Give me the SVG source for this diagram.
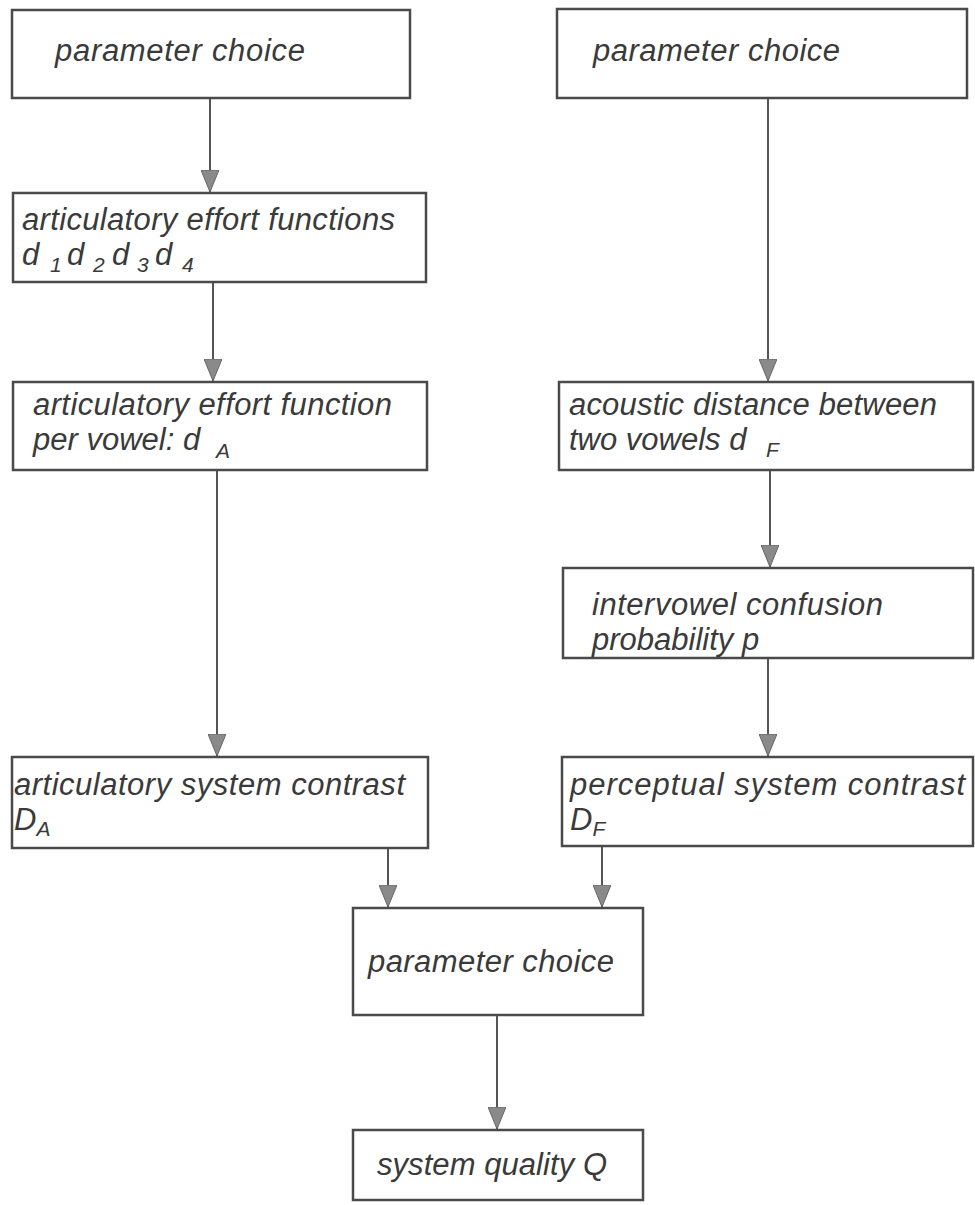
<svg xmlns="http://www.w3.org/2000/svg" width="975" height="1205" viewBox="0 0 975 1205">
<style>
.box{fill:#fff;stroke:#4a4a4a;stroke-width:2.5}
.t{font-family:"Liberation Sans",Arial,sans-serif;font-style:italic;font-size:31px;fill:#3a3a3a}
.s{font-size:21px}
.c{stroke:#555;stroke-width:2;fill:none}
</style>
<defs>
<marker id="ah" viewBox="0 0 22 18" refX="22" refY="9" markerWidth="22" markerHeight="18" markerUnits="userSpaceOnUse" orient="auto">
<path d="M0,0 L22,9 L0,18 Z" fill="#8a8a8a" stroke="#666" stroke-width="1"/>
</marker>
</defs>
<rect width="975" height="1205" fill="#fff"/>
<g id="connectors">
<line class="c" x1="210" y1="98" x2="210" y2="192" marker-end="url(#ah)"/>
<line class="c" x1="213" y1="282" x2="213" y2="381" marker-end="url(#ah)"/>
<line class="c" x1="217" y1="470" x2="217" y2="756" marker-end="url(#ah)"/>
<line class="c" x1="768" y1="98" x2="768" y2="381" marker-end="url(#ah)"/>
<line class="c" x1="770" y1="470" x2="770" y2="567" marker-end="url(#ah)"/>
<line class="c" x1="768" y1="658" x2="768" y2="756" marker-end="url(#ah)"/>
<line class="c" x1="388" y1="848" x2="388" y2="907" marker-end="url(#ah)"/>
<line class="c" x1="602" y1="846" x2="602" y2="907" marker-end="url(#ah)"/>
<line class="c" x1="497" y1="1015" x2="497" y2="1129" marker-end="url(#ah)"/>
</g>
<g id="n1"><rect class="box" x="12" y="10" width="398" height="88"/>
<text class="t" x="55" y="61" textLength="250">parameter choice</text></g>
<g id="n2"><rect class="box" x="557" y="9" width="410" height="89"/>
<text class="t" x="593" y="61" textLength="247">parameter choice</text></g>
<g id="n3"><rect class="box" x="13" y="193" width="413" height="89"/>
<text class="t" x="22" y="230" textLength="373">articulatory effort functions</text>
<text class="t"><tspan x="22" y="265">d</tspan><tspan class="s" x="50" y="272">1</tspan><tspan x="67" y="265">d</tspan><tspan class="s" x="93" y="272">2</tspan><tspan x="112" y="265">d</tspan><tspan class="s" x="137" y="272">3</tspan><tspan x="155" y="265">d</tspan><tspan class="s" x="182" y="272">4</tspan></text></g>
<g id="n4"><rect class="box" x="13" y="382" width="414" height="88"/>
<text class="t" x="33" y="415" textLength="359">articulatory effort function</text>
<text class="t" x="33" y="450">per vowel: d <tspan class="s" x="216" y="458">A</tspan></text></g>
<g id="n5"><rect class="box" x="559" y="382" width="414" height="88"/>
<text class="t" x="569" y="415" textLength="368">acoustic distance between</text>
<text class="t" x="569" y="450">two vowels d <tspan class="s" x="766" y="457">F</tspan></text></g>
<g id="n6"><rect class="box" x="563" y="568" width="410" height="90"/>
<text class="t" x="592" y="615" textLength="291">intervowel confusion</text>
<text class="t" x="592" y="650">probability p</text></g>
<g id="n7"><rect class="box" x="12" y="757" width="416" height="91"/>
<text class="t" x="14" y="795" textLength="391">articulatory system contrast</text>
<text class="t" x="14" y="830">D<tspan class="s" y="836">A</tspan></text></g>
<g id="n8"><rect class="box" x="562" y="757" width="411" height="89"/>
<text class="t" x="570" y="795" textLength="395">perceptual system contrast</text>
<text class="t" x="570" y="830">D<tspan class="s" y="836">F</tspan></text></g>
<g id="n9"><rect class="box" x="353" y="908" width="290" height="107"/>
<text class="t" x="368" y="972" textLength="246">parameter choice</text></g>
<g id="n10"><rect class="box" x="353" y="1130" width="290" height="70"/>
<text class="t" x="377" y="1175" textLength="230">system quality Q</text></g>
</svg>
